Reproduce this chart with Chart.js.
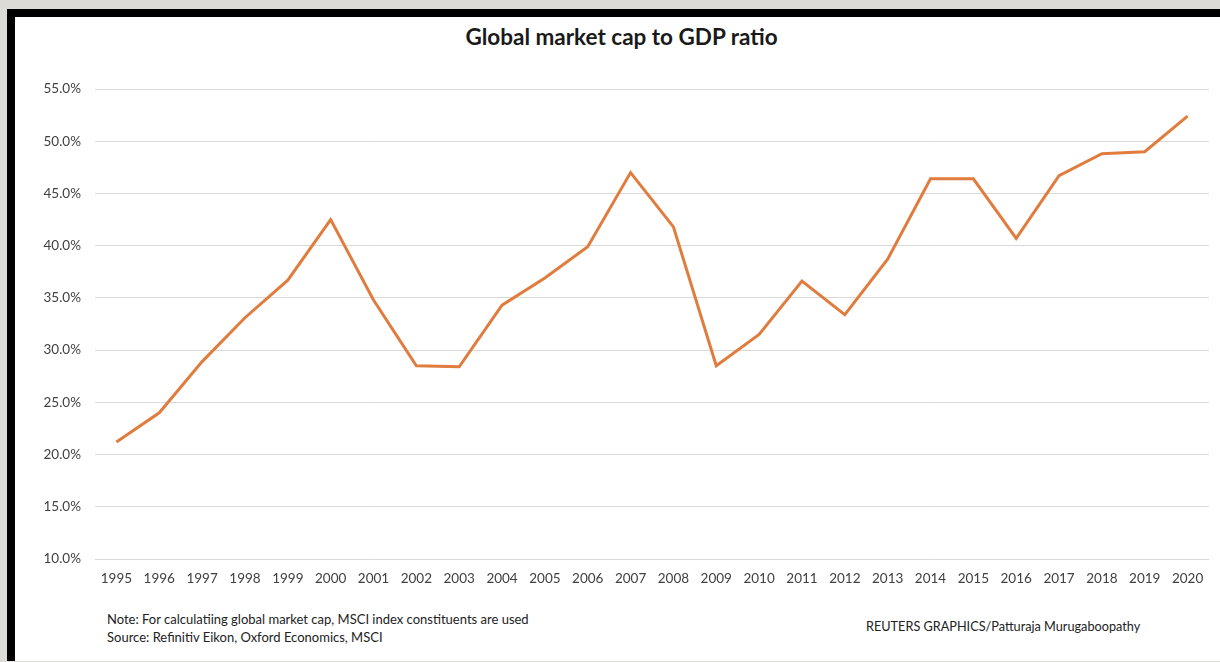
<!DOCTYPE html>
<html>
<head>
<meta charset="utf-8">
<script src="https://cdn.jsdelivr.net/npm/chart.js@4"></script>
<style>
  html, body { margin: 0; padding: 0; }
  body { width: 1220px; height: 662px; background: #dcdbd6; position: relative; overflow: hidden; font-family: Lato, "Open Sans", sans-serif; }
  #frame { position: absolute; left: 7px; top: 9px; right: 0; height: 644px; background: #fff; border-top: 8px solid #000; border-left: 8px solid #000; }
  #title { position: absolute; left: 0; width: 1243px; top: 23px; text-align: center; font-weight: bold; font-size: 22.5px; color: #1a1a1a; }
  .note { position: absolute; font-size: 13px; color: #222; white-space: nowrap; }
  #chart-wrap { position: absolute; left: 0; top: 0; width: 1220px; height: 662px; }
</style>
</head>
<body>
<div id="frame"></div>
<div id="title">Global market cap to GDP ratio</div>
<div class="note" style="left:107px; top:611px;">Note: For calculatiing global market cap, MSCI index constituents are used</div>
<div class="note" style="left:107px; top:629px;">Source: Refinitiv Eikon, Oxford Economics, MSCI</div>
<div class="note" style="left:866px; top:618px; font-size:12.7px;">REUTERS GRAPHICS/Patturaja Murugaboopathy</div>
<div id="chart-wrap"><canvas id="chart" width="1220" height="662"></canvas></div>
<script>
const years = ['1995', '1996', '1997', '1998', '1999', '2000', '2001', '2002', '2003', '2004',
  '2005', '2006', '2007', '2008', '2009', '2010', '2011', '2012', '2013', '2014',
  '2015', '2016', '2017', '2018', '2019', '2020'];
const capToGdp = [21.2, 24.0, 28.9, 33.1, 36.7, 42.5, 34.8, 28.5, 28.4, 34.3,
  36.9, 39.9, 47.0, 41.8, 28.5, 31.5, 36.6, 33.4, 38.7, 46.4,
  46.4, 40.7, 46.7, 48.8, 49.0, 52.4];
const yMin = 10;
const yMax = 55;
const yStep = 5;

const tickFont = { family: 'Lato, "Open Sans", sans-serif', size: 13.5 };

new Chart(document.getElementById('chart'), {
  type: 'line',
  data: {
    labels: years,
    datasets: [
      {
        data: capToGdp,
        borderColor: '#e07c3e',
        borderWidth: 3,
        pointRadius: 0,
        tension: 0,
        fill: false,
      },
    ],
  },
  options: {
    responsive: false,
    animation: false,
    layout: { padding: { left: 0, top: 89, right: 11, bottom: 63 } },
    plugins: { legend: { display: false }, tooltip: { enabled: false } },
    scales: {
      x: {
        offset: true,
        grid: { display: false, drawTicks: false },
        border: { display: false },
        ticks: { color: '#404040', font: tickFont, padding: 12, maxRotation: 0, autoSkip: false },
        afterFit: (scale) => { scale.height = 40; },
      },
      y: {
        min: yMin,
        max: yMax,
        ticks: {
          stepSize: yStep,
          color: '#404040',
          font: tickFont,
          padding: 14,
          callback: (value) => `${value.toFixed(1)}%`,
        },
        grid: { color: '#d9d9d9', lineWidth: 1, drawTicks: false },
        border: { display: false },
        afterFit: (scale) => { scale.width = 95; },
      },
    },
  },
});
</script>
</body>
</html>
